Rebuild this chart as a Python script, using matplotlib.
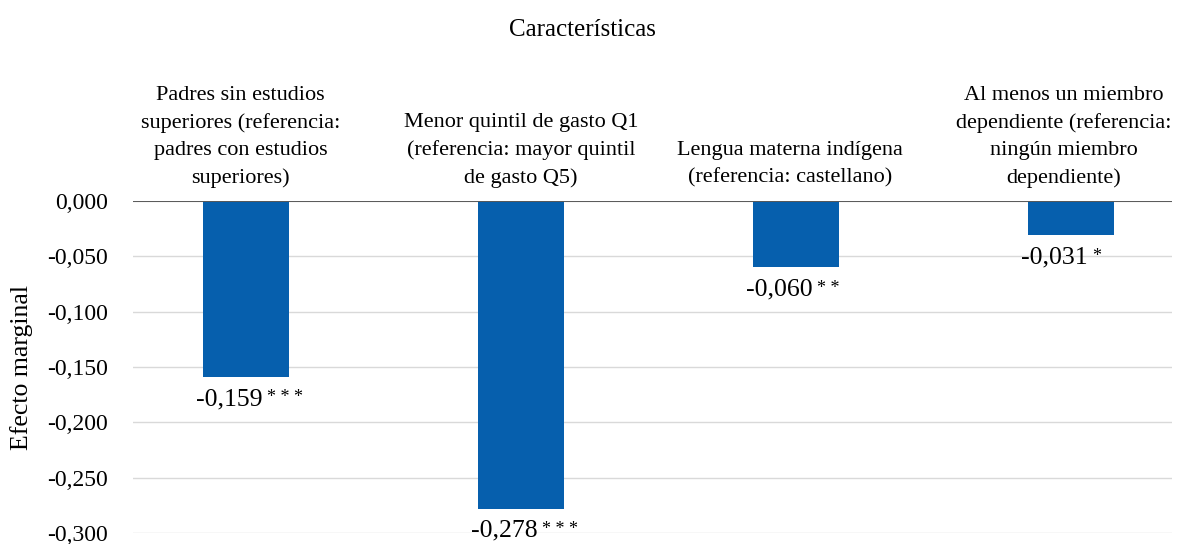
import numpy as np
import matplotlib.pyplot as plt
from matplotlib.ticker import FuncFormatter

plt.rcParams['font.family'] = ['Liberation Serif', 'DejaVu Serif']

# DATA
categorias = [
    'Padres sin estudios\nsuperiores (referencia:\npadres con estudios\nsuperiores)',
    'Menor quintil de gasto Q1\n(referencia: mayor quintil\nde gasto Q5)',
    'Lengua materna indígena\n(referencia: castellano)',
    'Al menos un miembro\ndependiente (referencia:\nningún miembro\ndependiente)',
]
efectos = [-0.159, -0.278, -0.060, -0.031]
etiquetas = ['-0,159', '-0,278', '-0,060', '-0,031']
significancia = ['* * *', '* * *', '* *', '*']


def fmt(v, p):
    if abs(v) < 1e-9:
        v = 0.0
    return f'{v:.3f}'.replace('.', ',')


fig = plt.figure(figsize=(11.8, 5.44), dpi=100)
ax = fig.add_axes([0.1127, 0.0202, 0.8803, 0.6103])

x = np.arange(len(efectos))
ax.bar(x, efectos, width=0.313, color='#065FAD', zorder=3)

ax.set_xlim(-0.411, 3.367)
ax.set_ylim(-0.300, 0.0)
ax.set_yticks(np.arange(-0.30, 0.001, 0.05))
ax.yaxis.set_major_formatter(FuncFormatter(fmt))
ax.tick_params(axis='y', length=0, labelsize=17, pad=18)
ax.set_xticks([])
ax.grid(axis='y', color='#D9D9D9', linewidth=1, zorder=0)
for s in ax.spines.values():
    s.set_visible(False)
ax.axhline(0, color='#595959', linewidth=1.4, zorder=4)
fig.text(22 / 1180, 0.325, 'Efecto marginal', rotation=90, ha='center', va='center', fontsize=18.5)

# etiquetas de categoria arriba
desplaz = [-0.02, 0.0, -0.02, -0.025]
for xi, cat, d in zip(x, categorias, desplaz):
    ax.text(xi + d, 1.04, cat, transform=ax.get_xaxis_transform(), ha='center', va='bottom',
            fontsize=16, linespacing=1.55)

fig.text(0.494, 0.945, 'Características', ha='center', va='center', fontsize=18)

# valores
for xi, v, lab, sig in zip(x, efectos, etiquetas, significancia):
    t = ax.annotate(lab, xy=(xi, v), xytext=(-12, -8), textcoords='offset points',
                    ha='center', va='top', fontsize=18.5, zorder=5)
    ax.annotate(sig, xy=(1, 1), xycoords=t, xytext=(3, -1), textcoords='offset points',
                ha='left', va='top', fontsize=13)

fig.savefig('out.png', dpi=100)
